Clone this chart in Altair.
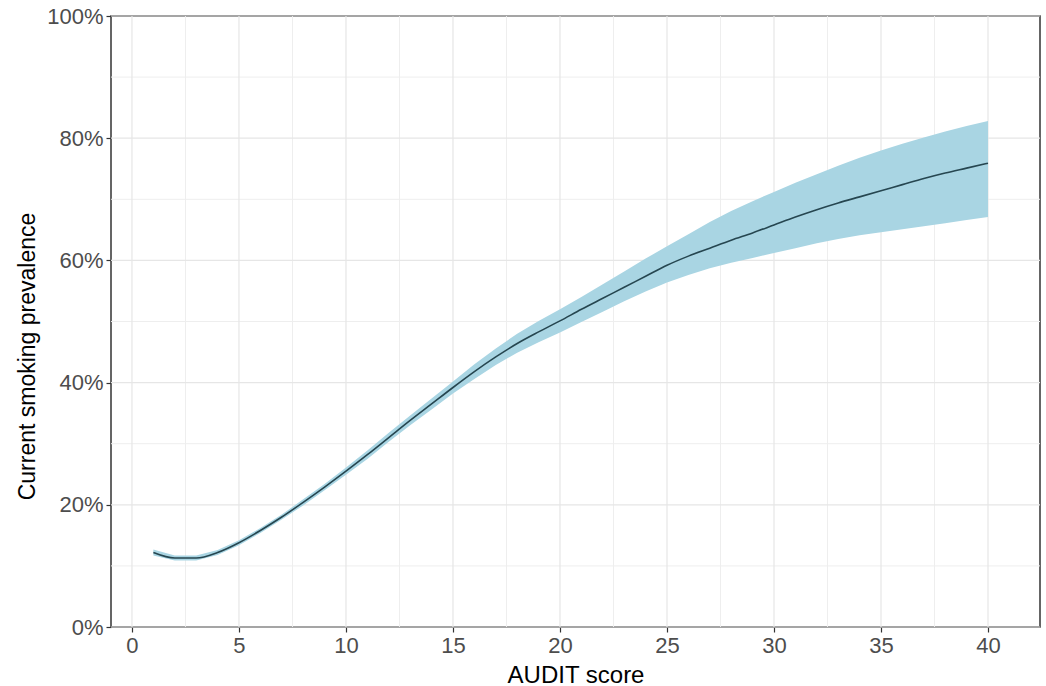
import altair as alt
import pandas as pd

# AUDIT score
audit = list(range(1, 41))
# estimated prevalence (%)
mid = [12.2, 11.3, 11.3, 12.2, 13.8, 15.8, 18.0, 20.4, 22.9, 25.5,
       28.2, 31.0, 33.8, 36.5, 39.2, 41.8, 44.2, 46.4, 48.3, 50.1,
       52.0, 53.8, 55.6, 57.4, 59.2, 60.7, 62.0, 63.3, 64.5, 65.8,
       67.1, 68.3, 69.4, 70.4, 71.4, 72.4, 73.4, 74.3, 75.1, 75.9]
lower = [11.7, 10.9, 10.9, 11.8, 13.4, 15.4, 17.6, 19.9, 22.4, 24.9,
         27.5, 30.3, 33.0, 35.6, 38.2, 40.6, 42.9, 44.9, 46.6, 48.2,
         49.9, 51.6, 53.3, 54.9, 56.4, 57.6, 58.7, 59.6, 60.4, 61.2,
         62.0, 62.8, 63.5, 64.1, 64.6, 65.1, 65.6, 66.1, 66.6, 67.1]
upper = [12.7, 11.7, 11.7, 12.6, 14.2, 16.2, 18.4, 20.9, 23.4, 26.1,
         28.9, 31.8, 34.6, 37.4, 40.2, 43.0, 45.6, 48.0, 50.1, 52.0,
         54.0, 56.1, 58.2, 60.3, 62.3, 64.3, 66.3, 68.1, 69.7, 71.2,
         72.7, 74.1, 75.5, 76.8, 78.0, 79.1, 80.1, 81.1, 82.0, 82.8]

x_major = [0, 5, 10, 15, 20, 25, 30, 35, 40]
x_minor = [2.5, 7.5, 12.5, 17.5, 22.5, 27.5, 32.5, 37.5]
y_major = [0, 0.2, 0.4, 0.6, 0.8, 1.0]
y_minor = [0.1, 0.3, 0.5, 0.7, 0.9]

df = pd.DataFrame({
    "x": audit,
    "mid": [v / 100 for v in mid],
    "lo": [v / 100 for v in lower],
    "hi": [v / 100 for v in upper],
})

xscale = alt.Scale(domain=[-0.98, 42.43], nice=False, zero=False)
yscale = alt.Scale(domain=[0, 1], nice=False)

FONT = "Liberation Sans"

xaxis = alt.Axis(values=x_major, title="AUDIT score", grid=False,
                 domain=False, tickColor="#333333", tickSize=5,
                 tickWidth=1.2, labelPadding=3,
                 labelFont=FONT, labelFontSize=22, labelColor="#4d4d4d",
                 titleFont=FONT, titleFontSize=24, titleColor="#000000",
                 titleFontWeight="normal", titleY=55,
                 titleBaseline="alphabetic")
yaxis = alt.Axis(values=y_major, format=".0%",
                 title="Current smoking prevalence", grid=False,
                 domain=False, tickColor="#333333", tickSize=5,
                 tickWidth=1.2, labelPadding=3,
                 labelFont=FONT, labelFontSize=22, labelColor="#4d4d4d",
                 titleFont=FONT, titleFontSize=23, titleColor="#000000",
                 titleFontWeight="normal", titleX=-84, titleY=340,
                 titleBaseline="middle")

grid_x_minor = alt.Chart(pd.DataFrame({"v": x_minor})).mark_rule(
    color="#eeeeee", strokeWidth=1).encode(x=alt.X("v:Q", scale=xscale, axis=xaxis))
grid_x_major = alt.Chart(pd.DataFrame({"v": x_major})).mark_rule(
    color="#e6e6e6", strokeWidth=1.2).encode(x=alt.X("v:Q", scale=xscale, axis=xaxis))
grid_y_minor = alt.Chart(pd.DataFrame({"v": y_minor})).mark_rule(
    color="#eeeeee", strokeWidth=1).encode(y=alt.Y("v:Q", scale=yscale, axis=yaxis))
grid_y_major = alt.Chart(pd.DataFrame({"v": y_major})).mark_rule(
    color="#e6e6e6", strokeWidth=1.2).encode(y=alt.Y("v:Q", scale=yscale, axis=yaxis))

band = alt.Chart(df).mark_area(color="#a9d5e3", opacity=1).encode(
    x=alt.X("x:Q", scale=xscale, axis=xaxis),
    y=alt.Y("lo:Q", scale=yscale, axis=yaxis),
    y2="hi:Q",
)

line = alt.Chart(df).mark_line(color="#264650", strokeWidth=1.6, interpolate="monotone").encode(
    x=alt.X("x:Q", scale=xscale, axis=xaxis),
    y=alt.Y("mid:Q", scale=yscale, axis=yaxis),
)

chart = alt.layer(
    grid_x_minor, grid_y_minor, grid_x_major, grid_y_major, band, line
).properties(
    width=929, height=611,
    autosize=alt.AutoSizeParams(type="none"),
    padding={"left": 111, "top": 16, "right": 6, "bottom": 59},
    background="white",
).configure_view(
    stroke="#333333", strokeWidth=1.5
)

chart.save("out.html", embed_options={"renderer": "svg", "actions": False})
